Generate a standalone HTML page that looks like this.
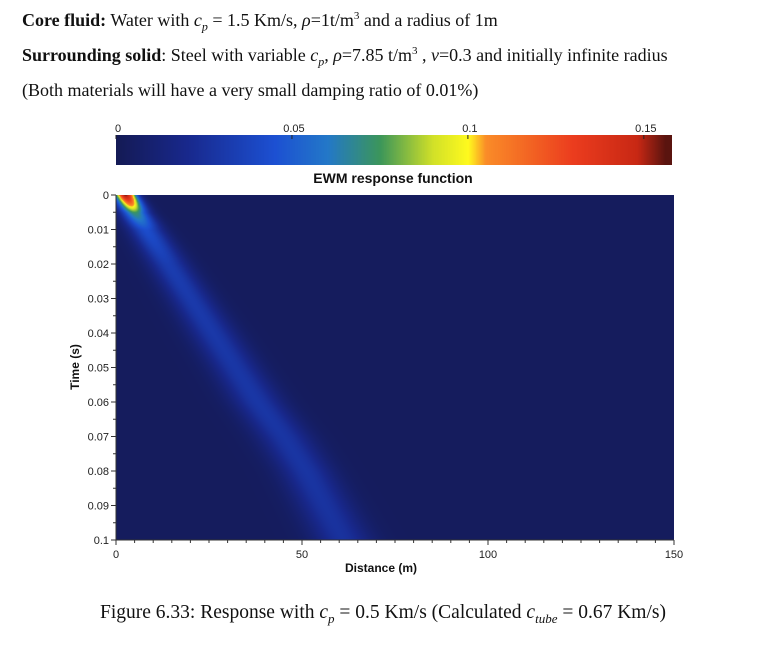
<!DOCTYPE html>
<html><head><meta charset="utf-8"><style>
body{margin:0;background:#fff;width:775px;height:655px;overflow:hidden;position:relative;font-family:"Liberation Serif",serif;}
.t{position:absolute;font-size:18px;color:#111;white-space:nowrap;}
svg text{font-family:"Liberation Sans",sans-serif;}
</style></head><body>
<div class="t" style="left:22px;top:10px"><b>Core fluid:</b> Water with <i>c<sub style="font-size:12px">p</sub></i> = 1.5 Km/s, <i>ρ</i>=1t/m<sup style="font-size:11px">3</sup> and a radius of 1m</div>
<div class="t" style="left:22px;top:45px"><b>Surrounding solid</b>: Steel with variable <i>c<sub style="font-size:12px">p</sub>, ρ</i>=7.85 t/m<sup style="font-size:11px">3</sup> , <i>ν</i>=0.3 and initially infinite radius</div>
<div class="t" style="left:22px;top:80px">(Both materials will have a very small damping ratio of 0.01%)</div>
<div class="t" style="left:100px;top:602px;font-size:19.5px">Figure 6.33: Response with <i>c<sub style="font-size:13px">p</sub></i> = 0.5 Km/s (Calculated <i>c<sub style="font-size:13px">tube</sub></i> = 0.67 Km/s)</div>
<canvas id="cb" width="556" height="30" style="position:absolute;left:116px;top:135px"></canvas>
<canvas id="hm" width="558" height="345" style="position:absolute;left:116px;top:195px"></canvas>
<svg id="ax" width="775" height="655" style="position:absolute;left:0;top:0"></svg>
<script>
const times=[0,0.005,0.01,0.02,0.03,0.04,0.05,0.06,0.07,0.08,0.09,0.1];
const beamCenter=[2.5,5,8,14,20,26,32,38,45,51,56,61];
const beamAmp=[0.15,0.07,0.04,0.03,0.028,0.027,0.026,0.026,0.025,0.025,0.024,0.023];
const beamSigma=[2,2.6,3.2,3.8,4.1,4.4,4.6,4.8,5,5,5.2,5.4];
const xTicks=[0,50,100,150];
const yTicks=[0,0.01,0.02,0.03,0.04,0.05,0.06,0.07,0.08,0.09,0.1];
const cbTicks=[0,0.05,0.1,0.15];
const L=116,R=674,T=195,B=540;
const xs=v=>L+(v/150)*(R-L), ys=v=>T+(v/0.1)*(B-T);
const stops=[[0,[20,26,85]],[0.02,[24,40,140]],[0.045,[28,80,210]],[0.06,[35,120,200]],[0.075,[60,150,90]],[0.09,[210,225,40]],[0.1,[255,250,30]],[0.105,[250,140,40]],[0.13,[235,60,30]],[0.148,[200,40,20]],[0.156,[90,20,15]]];
function cmap(v){if(v<=0)return stops[0][1];for(let i=1;i<stops.length;i++){if(v<=stops[i][0]){const a=stops[i-1],b=stops[i],f=(v-a[0])/(b[0]-a[0]);return a[1].map((c,k)=>c+(b[1][k]-c)*f);}}return stops[stops.length-1][1];}
const cb=document.getElementById('cb').getContext('2d');
for(let x=0;x<556;x++){const c=cmap(x/556*0.158);cb.fillStyle=`rgb(${c.map(Math.round)})`;cb.fillRect(x,0,1,30);}
function interp(arr,t){for(let i=1;i<times.length;i++){if(t<=times[i]){const f=(t-times[i-1])/(times[i]-times[i-1]);return arr[i-1]+(arr[i]-arr[i-1])*f;}}return arr[arr.length-1];}
const hc=document.getElementById('hm').getContext('2d');const img=hc.createImageData(558,345);
for(let py=0;py<345;py++){const t=py/345*0.1;const c=interp(beamCenter,t),a=interp(beamAmp,t),s=interp(beamSigma,t);
 for(let px=0;px<558;px++){const d=px/558*150;const v=0.003+a*Math.exp(-((d-c)*(d-c))/(2*s*s));const col=cmap(v);const o=(py*558+px)*4;img.data[o]=col[0];img.data[o+1]=col[1];img.data[o+2]=col[2];img.data[o+3]=255;}}
hc.putImageData(img,0,0);
const svg=document.getElementById('ax');const NS='http://www.w3.org/2000/svg';
function el(tag,at,txt){const e=document.createElementNS(NS,tag);for(const k in at)e.setAttribute(k,at[k]);if(txt!==undefined)e.textContent=txt;svg.appendChild(e);return e;}
el('line',{x1:L,y1:T,x2:L,y2:B,stroke:'#333'});el('line',{x1:L,y1:B,x2:R,y2:B,stroke:'#333'});
for(let i=0;i<=30;i++){const x=xs(i*5);el('line',{x1:x,y1:B,x2:x,y2:B+(i%10==0?5:3),stroke:'#333'});}
for(let i=0;i<=20;i++){const y=ys(i*0.005);el('line',{x1:L,y1:y,x2:L-(i%2==0?5:3),y2:y,stroke:'#333'});}
xTicks.forEach(v=>{const e=el('text',{x:xs(v),y:B+18,'font-size':11,'text-anchor':'middle',fill:'#222'},String(v));});
yTicks.forEach(v=>{const e=el('text',{x:L-7,y:ys(v)+4,'font-size':11,'text-anchor':'end',fill:'#222'},String(v));});
cbTicks.forEach(v=>{const x=116+v/0.158*556;const e=el('text',{x:x+2,y:132,'font-size':11,'text-anchor':'middle',fill:'#222'},String(v));el('line',{x1:x,y1:135,x2:x,y2:139,stroke:'#222'});});
let e=el('text',{x:393,y:183,'font-size':14,'font-weight':'bold','text-anchor':'middle',fill:'#111'},'EWM response function');
e=el('text',{x:381,y:572,'font-size':12,'font-weight':'bold','text-anchor':'middle',fill:'#111'},'Distance (m)');
e=el('text',{x:79,y:367,'font-size':12,'font-weight':'bold','text-anchor':'middle',fill:'#111',transform:'rotate(-90 79 367)'},'Time (s)');
</script>
</body></html>
